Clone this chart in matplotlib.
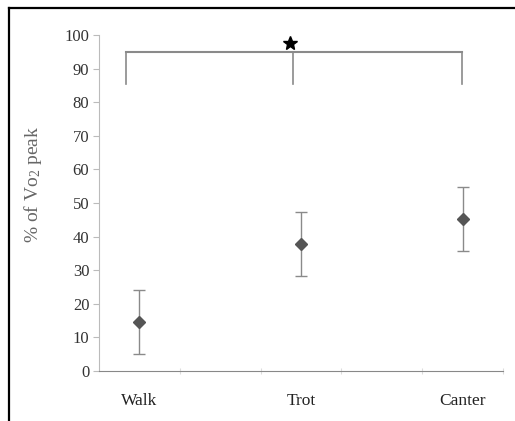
import matplotlib.pyplot as plt
from matplotlib.lines import Line2D

# Data
gaits = ['Walk', 'Trot', 'Canter']
gait_x = [0.5, 2.5, 4.5]
vo2_mean = [14.6, 37.8, 45.2]
vo2_err = [9.4, 9.5, 9.5]

# significance bracket
bracket_x = [0.33, 2.4, 4.49]
bracket_top = 95
bracket_drop = 85.5

plt.rcParams['font.family'] = ['Liberation Serif', 'DejaVu Serif']

fig = plt.figure(figsize=(5.15, 4.21), dpi=100)
ax = fig.add_axes([99 / 515, 1 - 371 / 421, (503 - 99) / 515, (371 - 35) / 421])

ax.errorbar(gait_x, vo2_mean, yerr=vo2_err, fmt='D', color='#555555',
            ecolor='#8a8a8a', elinewidth=1, capsize=4, capthick=1,
            markersize=6.5, zorder=3)

# bracket with star
ax.plot([bracket_x[0], bracket_x[2]], [bracket_top, bracket_top], color='#8a8a8a', lw=1.5)
for bx in bracket_x:
    ax.plot([bx, bx], [bracket_drop, bracket_top], color='#8a8a8a', lw=1.2)
ax.plot(bracket_x[1] - 0.03, 97.7, marker='*', color='black', markersize=10)

ax.set_xlim(0, 5)
ax.set_ylim(0, 100)
ax.set_yticks(range(0, 101, 10))
ax.set_xticks([1, 2, 3, 4, 5])
ax.set_xticklabels([])
ax.tick_params(axis='x', direction='inout', length=5, color='#dddddd')
ax.tick_params(axis='y', direction='out', length=4, color='#bbbbbb',
               labelsize=12, labelcolor='#333333', pad=3)

for name, xv in zip(gaits, gait_x):
    ax.text(xv, -9, name, ha='center', va='center', fontsize=12.5, color='#222222')

for s in ['top', 'right']:
    ax.spines[s].set_visible(False)
ax.spines['left'].set_color('#bbbbbb')
ax.spines['bottom'].set_color('#888888')

ax.set_ylabel(r'% of V$\mathregular{o_2}$ peak', fontsize=14, color='#666666')
ax.yaxis.set_label_coords(-0.135, 0.556)

# outer frame (left and top edges)
fig.add_artist(Line2D([8.5 / 515, 8.5 / 515], [0, 1 - 7.5 / 421], color='black', lw=1.6))
fig.add_artist(Line2D([8.5 / 515, 1], [1 - 7.5 / 421, 1 - 7.5 / 421], color='black', lw=1.6))

fig.savefig('out.png', dpi=100)
